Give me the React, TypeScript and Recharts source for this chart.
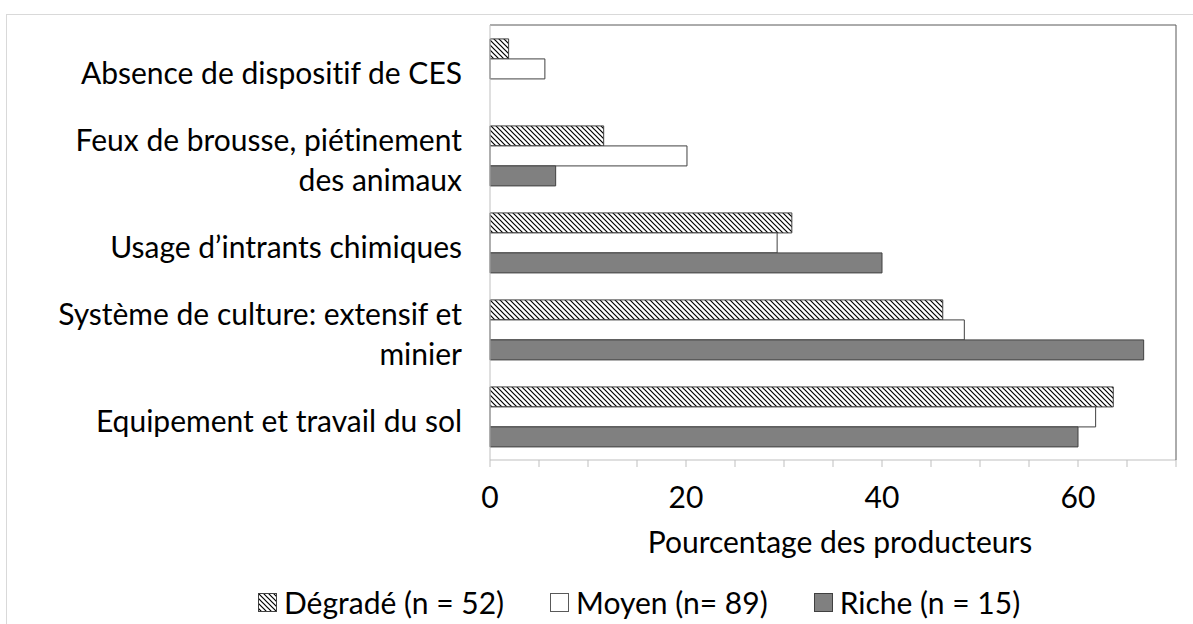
import { BarChart, Bar, XAxis, YAxis, Legend } from 'recharts';

const categories = [
  'Absence de dispositif de CES',
  'Feux de brousse, piétinement\ndes animaux',
  'Usage d’intrants chimiques',
  'Système de culture: extensif et\nminier',
  'Equipement et travail du sol',
];

const degrade = [1.9, 11.6, 30.8, 46.2, 63.6];
const moyen = [5.6, 20.1, 29.3, 48.4, 61.8];
const riche = [0, 6.7, 40, 66.7, 60];

const xTicks = [0, 5, 10, 15, 20, 25, 30, 35, 40, 45, 50, 55, 60, 65, 70];
const xLabelled = [0, 20, 40, 60];
const bandTicks = [0, 1, 2, 3, 4, 5];

const seriesNames = ['Dégradé (n = 52)', 'Moyen (n= 89)', 'Riche (n = 15)'];

const data = categories.map((name, i) => ({
  name,
  degrade: degrade[i],
  moyen: moyen[i],
  riche: riche[i],
}));

const FONT = 'Lato, sans-serif';
const FS = 30;
const AXIS_GRAY = '#bfbfbf';
const BAR_STROKE = '#404040';

const fills = ['url(#hatch)', '#ffffff', '#808080'];

function CategoryTick(props: any) {
  const { x, y, payload } = props;
  const lines = String(payload.value).split('\n');
  const lh = 40;
  const start = y + 3 - ((lines.length - 1) * lh) / 2;
  return (
    <text
      x={x}
      y={start}
      textAnchor="end"
      fill="#000"
      fontFamily={FONT}
      fontSize={FS}
      style={{ fontVariantLigatures: 'none' }}
    >
      {lines.map((l, i) => (
        <tspan key={i} x={x} y={start + i * lh} dominantBaseline="central">
          {l}
        </tspan>
      ))}
    </text>
  );
}

function XTick(props: any) {
  const { x, y, payload } = props;
  if (!xLabelled.includes(payload.value)) return null;
  return (
    <text x={x} y={y} dy={39} textAnchor="middle" fill="#000" fontFamily={FONT} fontSize={FS}>
      {payload.value}
    </text>
  );
}

function LegendContent() {
  return (
    <div
      style={{
        display: 'flex',
        alignItems: 'center',
        height: 40,
        marginLeft: 258,
        fontFamily: FONT,
        fontSize: FS,
        color: '#000',
        whiteSpace: 'nowrap',
      }}
    >
      {seriesNames.map((n, i) => (
        <div key={n} style={{ display: 'flex', alignItems: 'center', marginRight: 46 }}>
          <svg width={19} height={19} style={{ marginRight: 7 }}>
            <rect x={0.5} y={0.5} width={18} height={18} fill={fills[i]} stroke={i === 1 ? '#595959' : BAR_STROKE} />
          </svg>
          <span>{n}</span>
        </div>
      ))}
    </div>
  );
}

export default function App() {
  return (
    <div style={{ position: 'absolute', left: 0, top: 0, width: 1193, height: 624, background: '#fff' }}>
      <svg width={0} height={0} style={{ position: 'absolute' }}>
        <defs>
          <pattern id="hatch" patternUnits="userSpaceOnUse" width={5} height={5}>
            <rect width={5} height={5} fill="#fff" />
            <path d="M-1,-1 L6,6 M-1,4 L1,6 M4,-1 L6,1" stroke="#000" strokeWidth={1.2} />
          </pattern>
        </defs>
      </svg>
      <div
        style={{
          position: 'absolute',
          left: 6,
          top: 14,
          width: 1200,
          height: 620,
          border: '1px solid #d9d9d9',
        }}
      />
      <div style={{ position: 'absolute', left: 0, top: 0 }}>
        <BarChart
          width={1193}
          height={624}
          data={data}
          layout="vertical"
          margin={{ top: 24, right: 16, left: 0, bottom: 2 }}
          barCategoryGap="16%"
          barGap={0}
        >
          <XAxis
            type="number"
            domain={[0, 70]}
            ticks={xTicks}
            interval={0}
            tick={<XTick />}
            tickSize={7}
            axisLine={{ stroke: AXIS_GRAY }}
            tickLine={{ stroke: AXIS_GRAY }}
            height={122}
            label={{
              value: 'Pourcentage des producteurs',
              position: 'insideTop',
              offset: 72,
              dx: 7,
              fill: '#000',
              fontFamily: FONT,
              fontSize: FS,
            }}
          />
          <XAxis
            xAxisId="top"
            orientation="top"
            type="number"
            domain={[0, 70]}
            height={1}
            tick={false}
            tickLine={false}
            axisLine={{ stroke: '#595959' }}
          />
          <YAxis
            yAxisId="bands"
            type="number"
            domain={[0, 5]}
            ticks={bandTicks}
            interval={0}
            width={1}
            tick={false}
            tickSize={7}
            axisLine={{ stroke: AXIS_GRAY }}
            tickLine={{ stroke: AXIS_GRAY }}
          />
          <YAxis
            yAxisId="cat"
            type="category"
            dataKey="name"
            width={489}
            axisLine={false}
            tickLine={false}
            tickSize={0}
            tickMargin={27}
            interval={0}
            tick={<CategoryTick />}
          />
          <YAxis
            yAxisId="right"
            orientation="right"
            type="number"
            domain={[0, 1]}
            width={1}
            tick={false}
            tickLine={false}
            axisLine={{ stroke: '#595959' }}
          />
          <Legend verticalAlign="bottom" height={40} content={<LegendContent />} />
          <Bar yAxisId="cat" dataKey="degrade" name={seriesNames[0]} fill="url(#hatch)" stroke={BAR_STROKE} strokeWidth={1} isAnimationActive={false} />
          <Bar yAxisId="cat" dataKey="moyen" name={seriesNames[1]} fill="#ffffff" stroke={BAR_STROKE} strokeWidth={1} isAnimationActive={false} />
          <Bar yAxisId="cat" dataKey="riche" name={seriesNames[2]} fill="#808080" stroke={BAR_STROKE} strokeWidth={1} isAnimationActive={false} />
        </BarChart>
      </div>
    </div>
  );
}
